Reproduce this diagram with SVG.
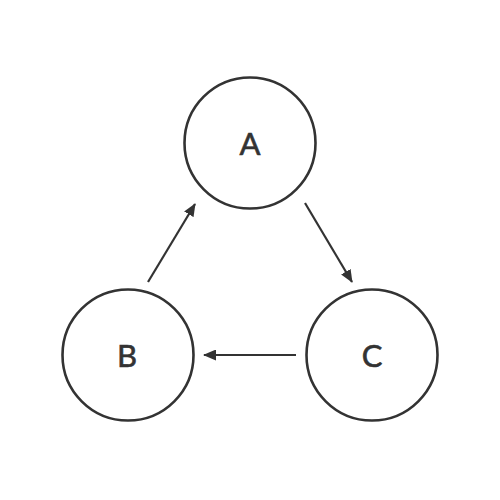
<svg xmlns="http://www.w3.org/2000/svg" width="500" height="500" viewBox="0 0 500 500">
<style>
.node circle{fill:#fff;stroke:#333;stroke-width:2.6}
.node text{font-family:Lato,"Noto Sans",sans-serif;font-size:31px;fill:#333;stroke:#333;stroke-width:0.6;text-anchor:middle}
.edge{stroke:#333;stroke-width:2.2;fill:none;marker-end:url(#ah)}
</style>
<defs>
<marker id="ah" viewBox="0 0 13 11" refX="12" refY="5.5" markerWidth="13" markerHeight="11" markerUnits="userSpaceOnUse" orient="auto">
<path d="M0,0 L13,5.5 L0,11 Z" fill="#333"/>
</marker>
</defs>
<rect width="500" height="500" fill="#fff"/>
<g id="connectors">
<line class="edge" x1="148" y1="282" x2="195" y2="204"/>
<line class="edge" x1="305" y1="203" x2="352" y2="282"/>
<line class="edge" x1="296" y1="355" x2="204" y2="355"/>
</g>
<g id="node-A" class="node"><circle cx="250" cy="143" r="65.5"/><text x="250" y="155">A</text></g>
<g id="node-B" class="node"><circle cx="128" cy="355" r="65.5"/><text x="127" y="367">B</text></g>
<g id="node-C" class="node"><circle cx="372" cy="355" r="65.5"/><text x="372" y="367">C</text></g>
</svg>
